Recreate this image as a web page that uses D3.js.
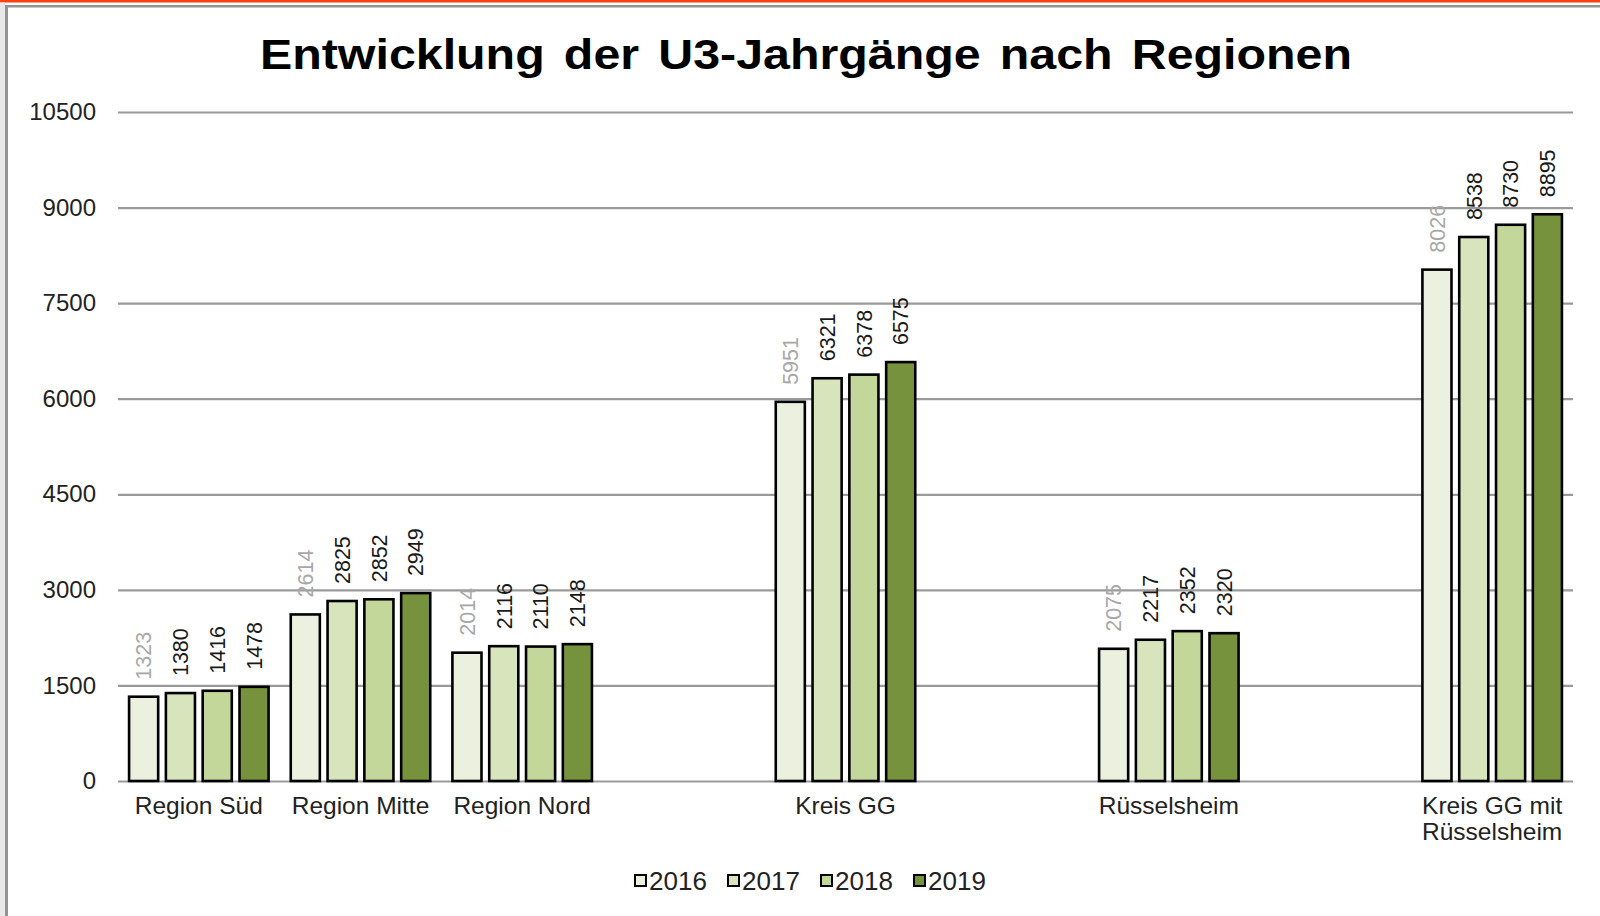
<!DOCTYPE html>
<html>
<head>
<meta charset="utf-8">
<script src="https://cdn.jsdelivr.net/npm/d3@7/dist/d3.min.js"></script>
<style>
  html, body { margin: 0; padding: 0; background: #fff; }
  svg { display: block; font-family: "Liberation Sans", Arial, sans-serif; }
</style>
</head>
<body>
<svg id="chart" width="1600" height="916"></svg>
<script>
const title = "Entwicklung der U3-Jahrgänge nach Regionen";
const categories = ["Region Süd", "Region Mitte", "Region Nord", "", "Kreis GG", "", "Rüsselsheim", "", "Kreis GG mit Rüsselsheim"];
const seriesNames = ["2016", "2017", "2018", "2019"];
const v2016 = [1323, 2614, 2014, null, 5951, null, 2075, null, 8026];
const v2017 = [1380, 2825, 2116, null, 6321, null, 2217, null, 8538];
const v2018 = [1416, 2852, 2110, null, 6378, null, 2352, null, 8730];
const v2019 = [1478, 2949, 2148, null, 6575, null, 2320, null, 8895];
const yTicks = [0, 1500, 3000, 4500, 6000, 7500, 9000, 10500];
const colors = ["#ebf1de", "#d8e4bc", "#c4d79b", "#76923c"];
const labelColors = ["#a8a8a8", "#1a1a1a", "#1a1a1a", "#1a1a1a"];

const values = [v2016, v2017, v2018, v2019];
const svg = d3.select("#chart");

// frame
svg.append("rect").attr("x", 0).attr("y", 0).attr("width", 1600).attr("height", 2.5).attr("fill", "#ff4010");
svg.append("rect").attr("x", 0).attr("y", 2.5).attr("width", 5).attr("height", 914).attr("fill", "#e8e8e8");
svg.append("rect").attr("x", 5).attr("y", 5).attr("width", 1595).attr("height", 2.5).attr("fill", "#949494");
svg.append("rect").attr("x", 5).attr("y", 5).attr("width", 3).attr("height", 911).attr("fill", "#949494");

const pLeft = 118, pRight = 1573, pTop = 112, pBottom = 781;
const x0 = d3.scaleBand().domain(d3.range(categories.length)).range([pLeft, pRight]).paddingInner(0).paddingOuter(0);
const bw = x0.bandwidth();
const inset = (bw - 139.5) / 2;
const x1 = d3.scaleBand().domain(seriesNames).range([inset, bw - inset]).paddingInner(0.21).paddingOuter(0);
const y = d3.scaleLinear().domain([0, 10500]).range([pBottom, pTop]);

// title
svg.append("text")
  .attr("x", 806).attr("y", 69)
  .attr("text-anchor", "middle")
  .attr("font-size", 42).attr("font-weight", "bold").attr("fill", "#000")
  .attr("word-spacing", 5)
  .attr("textLength", 1092).attr("lengthAdjust", "spacingAndGlyphs")
  .text(title);

// grid + y axis
const yAxis = d3.axisLeft(y).tickValues(yTicks).tickSize(-(pRight - pLeft)).tickPadding(22).tickFormat(d3.format("d"));
const gy = svg.append("g").attr("transform", `translate(${pLeft},0)`).call(yAxis);
gy.select(".domain").remove();
gy.selectAll(".tick line").attr("stroke", "#9a9a9a").attr("stroke-width", 2.2);
gy.selectAll(".tick text").attr("font-size", 24).attr("fill", "#222").attr("font-family", "Liberation Sans, Arial, sans-serif");

// bars
const groups = svg.append("g").selectAll("g")
  .data(categories.map((c, i) => ({c, i})).filter(d => v2016[d.i] !== null))
  .join("g")
  .attr("transform", d => `translate(${x0(d.i)},0)`);

groups.selectAll("rect")
  .data(d => seriesNames.map((s, k) => ({s, k, v: values[k][d.i]})))
  .join("rect")
  .attr("x", d => x1(d.s))
  .attr("width", x1.bandwidth())
  .attr("y", d => y(d.v))
  .attr("height", d => y(0) - y(d.v))
  .attr("fill", d => colors[d.k])
  .attr("stroke", "#000")
  .attr("stroke-width", 2.6);

groups.selectAll("text")
  .data(d => seriesNames.map((s, k) => ({s, k, v: values[k][d.i]})))
  .join("text")
  .attr("transform", d => `translate(${x1(d.s) + x1.bandwidth() / 2},${y(d.v) - 17}) rotate(-90)`)
  .attr("text-anchor", "start")
  .attr("dy", "0.36em")
  .attr("font-size", 21.5)
  .attr("fill", d => labelColors[d.k])
  .text(d => d.v);

// category labels
const xAxisG = svg.append("g");
categories.forEach((c, i) => {
  if (!c) return;
  const cx = x0(i) + bw / 2;
  const t = xAxisG.append("text")
    .attr("x", cx).attr("y", 814)
    .attr("text-anchor", "middle")
    .attr("font-size", 24.5).attr("fill", "#222");
  const words = c.split(" ");
  let line = [];
  let ts = t.append("tspan").attr("x", cx).attr("dy", 0);
  words.forEach(w => {
    line.push(w);
    ts.text(line.join(" "));
    if (ts.node().getComputedTextLength() > bw - 4 && line.length > 1) {
      line.pop();
      ts.text(line.join(" "));
      line = [w];
      ts = t.append("tspan").attr("x", cx).attr("dy", 26).text(w);
    }
  });
});

// legend
const legendX = [634, 727, 820, 913];
const lg = svg.append("g");
seriesNames.forEach((s, k) => {
  lg.append("rect").attr("x", legendX[k] + 1).attr("y", 875).attr("width", 11).attr("height", 11)
    .attr("fill", colors[k]).attr("stroke", "#000").attr("stroke-width", 2);
  lg.append("text").attr("x", legendX[k] + 15).attr("y", 890)
    .attr("font-size", 26).attr("fill", "#222").text(s);
});
</script>
</body>
</html>
